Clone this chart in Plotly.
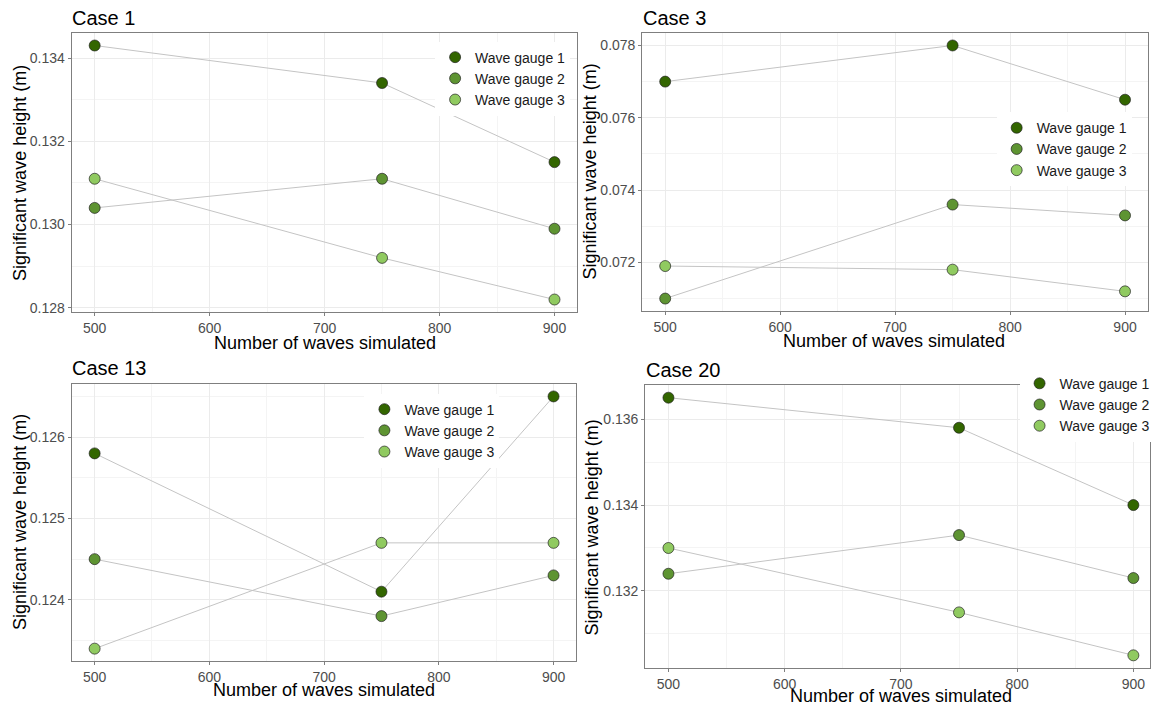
import plotly.graph_objects as go

# ---------------- data ----------------
waves = [500, 750, 900]
gauge_names = ["Wave gauge 1", "Wave gauge 2", "Wave gauge 3"]
gauge_colors = ["#336600", "#5E9432", "#90CA60"]

case1_gauge1 = [0.1343, 0.1334, 0.1315]
case1_gauge2 = [0.1304, 0.1311, 0.1299]
case1_gauge3 = [0.1311, 0.1292, 0.1282]

case3_gauge1 = [0.0770, 0.0780, 0.0765]
case3_gauge2 = [0.0710, 0.0736, 0.0733]
case3_gauge3 = [0.0719, 0.0718, 0.0712]

case13_gauge1 = [0.1258, 0.1241, 0.1265]
case13_gauge2 = [0.1245, 0.1238, 0.1243]
case13_gauge3 = [0.1234, 0.1247, 0.1247]

case20_gauge1 = [0.1365, 0.1358, 0.1340]
case20_gauge2 = [0.1324, 0.1333, 0.1323]
case20_gauge3 = [0.1330, 0.1315, 0.1305]

case_titles = ["Case 1", "Case 3", "Case 13", "Case 20"]
y_tick_steps = [0.002, 0.002, 0.001, 0.002]

x_title = "Number of waves simulated"
y_title = "Significant wave height (m)"

# ---------------- layout geometry (pixels) ----------------
W, H = 1155, 709
FONT = "Liberation Sans, Arial, sans-serif"

panels = [
    dict(data=[case1_gauge1, case1_gauge2, case1_gauge3], l=72, r=580, t=33, b=314,
         lgx=457, lgy=79, tx=70, ty=18, ytx=20, ytyc=174, xtx=326, xty=345, xmax=920),
    dict(data=[case3_gauge1, case3_gauge2, case3_gauge3], l=645, r=1153, t=33, b=313,
         lgx=1021, lgy=150, tx=644, ty=18, ytx=593, ytyc=172, xtx=898, xty=343, xmax=920),
    dict(data=[case13_gauge1, case13_gauge2, case13_gauge3], l=72, r=579, t=386, b=665,
         lgx=386, lgy=433, tx=70, ty=370, ytx=20, ytyc=525, xtx=325, xty=694, xmax=920),
    dict(data=[case20_gauge1, case20_gauge2, case20_gauge3], l=648, r=1155, t=387, b=672,
         lgx=1044, lgy=407, tx=647, ty=372, ytx=595, ytyc=530, xtx=905, xty=700, xmax=914.3),
]

fig = go.Figure()
annotations = []

for i, p in enumerate(panels):
    n = "" if i == 0 else str(i + 1)
    xa, ya = "x" + n, "y" + n
    leg = "legend" if i == 0 else "legend" + str(i + 1)

    # connecting lines
    for g, vals in enumerate(p["data"]):
        fig.add_trace(go.Scatter(
            x=waves, y=vals, mode="lines", xaxis=xa, yaxis=ya,
            line=dict(color="#C4C4C4", width=1), showlegend=False, hoverinfo="skip"))
    # markers
    for g, vals in enumerate(p["data"]):
        fig.add_trace(go.Scatter(
            x=waves, y=vals, mode="markers", xaxis=xa, yaxis=ya, name=gauge_names[g],
            legend=leg,
            marker=dict(size=11, color=gauge_colors[g],
                        line=dict(color="rgba(30,30,30,0.85)", width=0.8))))

    allv = [v for s in p["data"] for v in s]
    lo, hi = min(allv), max(allv)
    pad = 0.05 * (hi - lo)
    step = y_tick_steps[i]

    axis_common = dict(
        showline=True, mirror=True, linecolor="#7F7F7F", linewidth=1,
        ticks="outside", ticklen=3, tickcolor="#7F7F7F", tickwidth=1,
        tickfont=dict(family=FONT, size=14, color="#4D4D4D"),
        showgrid=True, gridcolor="#EBEBEB", gridwidth=1, zeroline=False,
    )
    fig.layout["xaxis" + n] = dict(
        axis_common,
        domain=[p["l"] / W, p["r"] / W], anchor=ya,
        range=[480, p["xmax"]], tick0=500, dtick=100,
        minor=dict(showgrid=True, gridcolor="#F4F4F4", gridwidth=0.6, dtick=50, tick0=500, ticks=""),
    )
    fig.layout["yaxis" + n] = dict(
        axis_common,
        domain=[1 - p["b"] / H, 1 - p["t"] / H], anchor=xa,
        range=[lo - pad, hi + pad], tick0=0, dtick=step, tickformat=".3f",
        minor=dict(showgrid=True, gridcolor="#F4F4F4", gridwidth=0.6, dtick=step / 2, tick0=0, ticks=""),
    )
    fig.layout[leg] = dict(
        x=(p["lgx"] - 20) / W, y=1 - p["lgy"] / H, xanchor="left", yanchor="middle",
        bgcolor="white", borderwidth=0, itemwidth=30, tracegroupgap=0,
        font=dict(family=FONT, size=14, color="#1A1A1A"),
    )

    annotations.append(dict(
        text=case_titles[i], xref="paper", yref="paper", x=p["tx"] / W, y=1 - p["ty"] / H,
        xanchor="left", yanchor="middle", showarrow=False,
        font=dict(family=FONT, size=20, color="black")))
    annotations.append(dict(
        text=y_title, xref="paper", yref="paper", x=p["ytx"] / W, y=1 - p["ytyc"] / H,
        xanchor="center", yanchor="middle", textangle=-90, showarrow=False,
        font=dict(family=FONT, size=18, color="black")))
    annotations.append(dict(
        text=x_title, xref="paper", yref="paper", x=p["xtx"] / W, y=1 - p["xty"] / H,
        xanchor="center", yanchor="middle", showarrow=False,
        font=dict(family=FONT, size=18, color="black")))

fig.update_layout(
    width=W, height=H, margin=dict(l=0, r=0, t=0, b=0),
    paper_bgcolor="white", plot_bgcolor="white",
    annotations=annotations, showlegend=True,
    font=dict(family=FONT),
)

fig.write_html("out.html")
